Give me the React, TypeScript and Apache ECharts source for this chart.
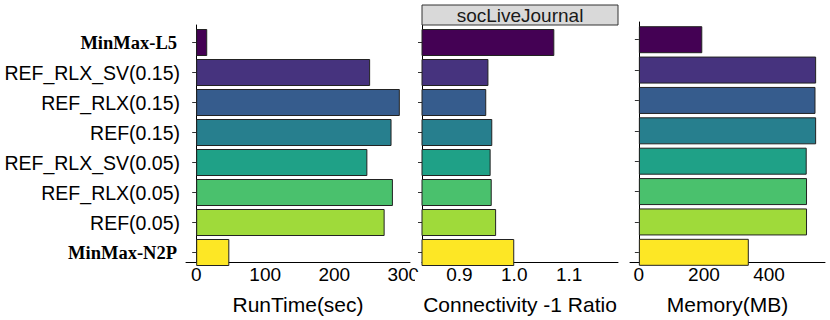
import React, { useEffect, useRef } from "react";
import * as echarts from "echarts";

const categories = [
  "MinMax-L5",
  "REF_RLX_SV(0.15)",
  "REF_RLX(0.15)",
  "REF(0.15)",
  "REF_RLX_SV(0.05)",
  "REF_RLX(0.05)",
  "REF(0.05)",
  "MinMax-N2P",
];
const runtime = [16, 252, 295, 283, 248, 285, 273, 48];
const connectivity = [1.073, 0.953, 0.949, 0.96, 0.957, 0.959, 0.967, 1.0];
const memory = [195, 545, 543, 545, 516, 517, 517, 338];
const barColors = ["#440154", "#46337E", "#365C8D", "#277F8E", "#1FA187", "#4AC16D", "#9FDA3A", "#FDE725"];
const runtimeTicks = [0, 100, 200, 300];
const connTicks = [0.9, 1.0, 1.1];
const memTicks = [0, 200, 400];
const stripLabel = "socLiveJournal";

const FONT = "Liberation Sans";

export default function App() {
  const ref = useRef<HTMLDivElement>(null);
  useEffect(() => {
    if (!ref.current) return;
    const chart = echarts.init(ref.current, null, { renderer: "svg" });

    const panels = [
      { frame: { left: 186, top: 25, width: 224, height: 245 }, inner: { left: 186, top: 27.5, width: 224, height: 240 }, min: -14.75, max: 309.75, ticks: runtimeTicks, name: "RunTime(sec)", data: runtime, labels: true, fmt: (v: number) => String(v) },
      { frame: { left: 422, top: 25, width: 196, height: 245 }, inner: { left: 422, top: 27.5, width: 196, height: 240 }, min: 0.832, max: 1.189, ticks: connTicks, name: "Connectivity -1 Ratio", data: connectivity, labels: false, fmt: (v: number) => v.toFixed(1) },
      { frame: { left: 630, top: 22, width: 195, height: 248 }, inner: { left: 630, top: 24.5, width: 195, height: 243 }, min: -27.25, max: 572.25, ticks: memTicks, name: "Memory(MB)", data: memory, labels: false, fmt: (v: number) => String(v) },
    ];

    const grid: any[] = [];
    const xAxis: any[] = [];
    const yAxis: any[] = [];
    const series: any[] = [];

    panels.forEach((p, i) => {
      const fi = i * 2;
      const ii = i * 2 + 1;
      grid.push({ ...p.frame, containLabel: false });
      grid.push({ ...p.inner, containLabel: false });
      xAxis.push({
        gridIndex: fi,
        type: "value",
        min: p.min,
        max: p.max,
        axisLine: { show: true, lineStyle: { color: "#000", width: 1 } },
        axisTick: { show: false },
        splitLine: { show: false },
        axisLabel: {
          show: true,
          customValues: p.ticks,
          formatter: (v: number) => p.fmt(v),
          fontFamily: FONT,
          fontSize: 19,
          color: "#000",
          margin: 3,
          showMinLabel: true,
          showMaxLabel: true,
        },
        name: p.name,
        nameLocation: "middle",
        nameGap: 32,
        nameTextStyle: { fontFamily: FONT, fontSize: 21, color: "#000" },
      });
      yAxis.push({
        gridIndex: fi,
        type: "value",
        min: 0,
        max: 1,
        axisLine: { show: true, lineStyle: { color: "#000", width: 1 } },
        axisTick: { show: false },
        axisLabel: { show: false },
        splitLine: { show: false },
      });
      xAxis.push({
        gridIndex: ii,
        type: "value",
        min: p.min,
        max: p.max,
        show: false,
        splitLine: { show: false },
      });
      yAxis.push({
        gridIndex: ii,
        type: "category",
        inverse: true,
        data: categories,
        axisLine: { show: false },
        axisTick: { show: true, alignWithLabel: true, length: 4, lineStyle: { color: "#333", width: 1 } },
        axisLabel: {
          show: p.labels,
          margin: 6,
          formatter: (v: string) => (v.startsWith("MinMax") ? `{b|${v}}` : `{n|${v}}`),
          rich: {
            b: { fontFamily: "Liberation Serif", fontWeight: "bold", fontSize: 18.5, color: "#000", padding: [0, 3, 0, 0] },
            n: { fontFamily: FONT, fontSize: 19.5, color: "#000" },
          },
        },
        splitLine: { show: false },
      });
      series.push({
        type: "bar",
        xAxisIndex: ii,
        yAxisIndex: ii,
        barWidth: 27,
        clip: true,
        silent: true,
        data: p.data.map((v, k) => ({
          value: v,
          itemStyle: { color: barColors[k], borderColor: "#222", borderWidth: 1 },
        })),
      });
    });

    chart.setOption({
      animation: false,
      backgroundColor: "#fff",
      grid,
      xAxis,
      yAxis,
      series,
      graphic: [
        {
          type: "rect",
          shape: { x: 415, y: 272, width: 6, height: 24 },
          style: { fill: "#fff" },
          z: 100,
        },
        {
          type: "rect",
          shape: { x: 422, y: 5, width: 196, height: 20 },
          style: { fill: "#D9D9D9", stroke: "#333", lineWidth: 1 },
          z: 100,
        },
        {
          type: "text",
          x: 520,
          y: 15.5,
          style: {
            text: stripLabel,
            fontFamily: FONT,
            fontSize: 19,
            fill: "#1a1a1a",
            align: "center",
            verticalAlign: "middle",
          },
          z: 101,
        },
      ],
    });
    return () => chart.dispose();
  }, []);

  return <div ref={ref} style={{ position: "fixed", left: 0, top: 0, width: 830, height: 320 }} />;
}
